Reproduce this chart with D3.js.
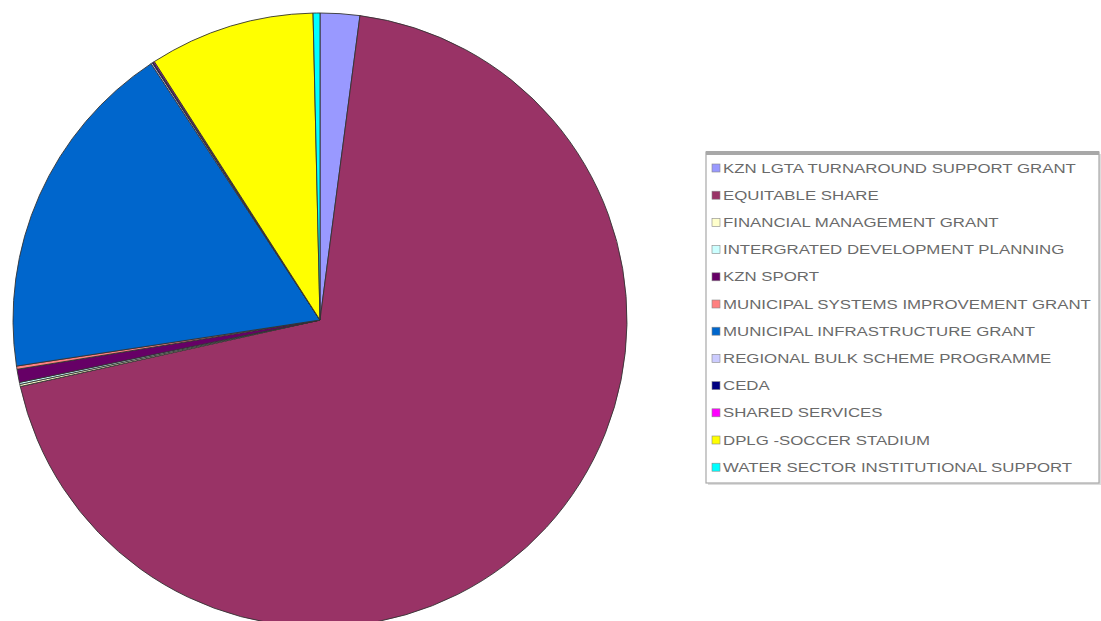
<!DOCTYPE html>
<html>
<head>
<meta charset="utf-8">
<script src="https://cdn.jsdelivr.net/npm/d3@7"></script>
<style>
  html, body { margin: 0; padding: 0; background: #ffffff; }
  svg { display: block; }
</style>
</head>
<body>
<svg id="chart" width="1101" height="621"></svg>
<script>
// ---- data (percent share) ----
const categories = [
  "KZN LGTA TURNAROUND SUPPORT GRANT",
  "EQUITABLE SHARE",
  "FINANCIAL MANAGEMENT GRANT",
  "INTERGRATED DEVELOPMENT PLANNING",
  "KZN SPORT",
  "MUNICIPAL SYSTEMS IMPROVEMENT GRANT",
  "MUNICIPAL INFRASTRUCTURE GRANT",
  "REGIONAL BULK SCHEME PROGRAMME",
  "CEDA",
  "SHARED SERVICES",
  "DPLG -SOCCER STADIUM",
  "WATER SECTOR INSTITUTIONAL SUPPORT"
];
const values = [2.08, 69.5, 0.11, 0.11, 0.69, 0.17, 18.14, 0.08, 0.06, 0.06, 8.72, 0.36];
const colors = ["#9999FF", "#993366", "#FFFFCC", "#CCFFFF", "#660066", "#FF8080",
                "#0066CC", "#CCCCFF", "#000080", "#FF00FF", "#FFFF00", "#00FFFF"];

const svg = d3.select("#chart");

// ---- pie ----
const cx = 320, cy = 320, R = 307;
const pie = d3.pie().sort(null).value(d => d.v);
const arc = d3.arc().innerRadius(0).outerRadius(R);
const data = categories.map((c, i) => ({ c, v: values[i], col: colors[i] }));

svg.append("g")
  .attr("transform", `translate(${cx},${cy})`)
  .selectAll("path")
  .data(pie(data))
  .join("path")
  .attr("d", arc)
  .attr("fill", d => d.data.col)
  .attr("stroke", "#333")
  .attr("stroke-width", 0.9)
  .attr("stroke-linejoin", "round");

// ---- legend ----
const lx = 706, ly = 152, lw = 393, lh = 331;
const lg = svg.append("g");
lg.append("rect").attr("x", lx + 2).attr("y", ly + 2).attr("width", lw).attr("height", lh)
  .attr("fill", "#dddddd");
lg.append("rect").attr("x", lx).attr("y", ly).attr("width", lw).attr("height", lh)
  .attr("fill", "#ffffff").attr("stroke", "#a8a8a8").attr("stroke-width", 1.2);
lg.append("rect").attr("x", lx).attr("y", ly - 1).attr("width", lw).attr("height", 4)
  .attr("fill", "#a8a8a8");

const y0 = 168, step = 27.2;
const items = lg.selectAll("g.item").data(data).join("g").attr("class", "item")
  .attr("transform", (d, i) => `translate(${lx + 6},${y0 + i * step})`);
items.append("rect").attr("x", 0).attr("y", -4).attr("width", 8).attr("height", 8)
  .attr("fill", d => d.col).attr("stroke", "#888").attr("stroke-width", 0.6);
const texts = items.append("text")
  .attr("x", 0).attr("y", 0).attr("dy", "0.36em")
  .attr("font-family", "Liberation Sans, Arial, sans-serif")
  .attr("font-size", 12.5)
  .attr("fill", "#6a6a6a")
  .text(d => d.c);

// horizontal stretch so the longest label spans like the reference
let maxW = 0;
texts.each(function () { maxW = Math.max(maxW, this.getComputedTextLength()); });
const sx = 368 / maxW;
texts.attr("transform", `translate(11,0) scale(${sx},1)`);
</script>
</body>
</html>
